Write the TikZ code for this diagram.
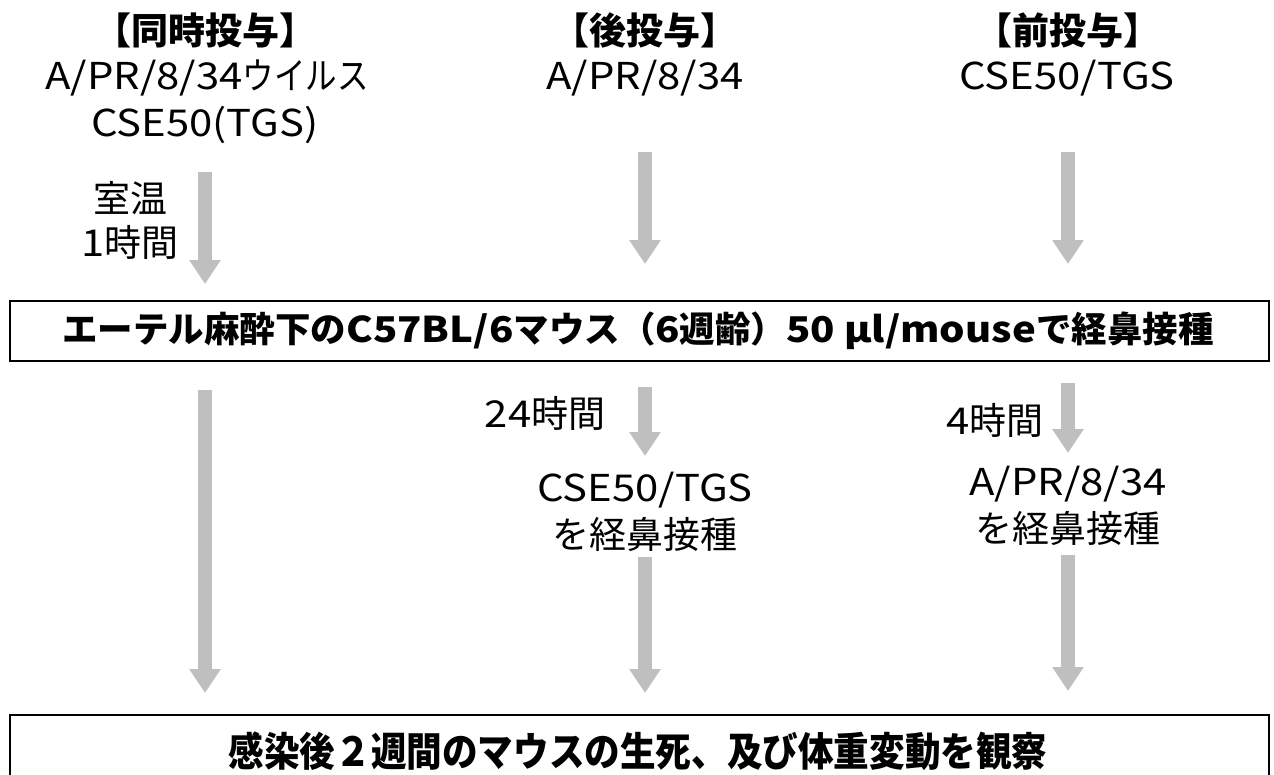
\documentclass[tikz,border=0pt]{standalone}
\usepackage{fontspec}
\setmainfont{Noto Sans CJK JP}
\newfontfamily\widelatin[FakeStretch=1.13]{Noto Sans CJK JP}
\newfontfamily\narrowkana[FakeStretch=0.85]{Noto Sans CJK JP}
\newcommand{\wlat}[1]{{\widelatin #1}}
\newcommand{\nkana}[1]{{\narrowkana #1}}
\usetikzlibrary{arrows.meta}
\definecolor{arrowgray}{HTML}{BFBFBF}
\tikzset{
  txt/.style={inner sep=0pt, font=\fontsize{37}{40}\selectfont},
  head/.style={inner sep=0pt, font=\fontsize{37}{40}\selectfont\bfseries},
  boxtxt/.style={inner sep=0pt, font=\fontsize{37}{40}\selectfont\bfseries},
  garrow/.style={draw=arrowgray, line width=14pt, -{Triangle[width=30pt,length=24pt]}},
  frame/.style={draw=black, line width=1.8pt}
}
\begin{document}
\begin{tikzpicture}[x=1pt,y=-1pt]
\useasboundingbox (0,0) rectangle (1274,774);
% headings
\node[head] (h1) at (205,30) {【同時投与】};
\node[txt] (a1) at (207,78) {\wlat{A/PR/8/34}\nkana{ウイルス}};
\node[txt] (a2) at (205,125) {\wlat{CSE50(TGS)}};
\node[head] (h2) at (645,30) {【後投与】};
\node[txt] (b1) at (645,78) {\wlat{A/PR/8/34}};
\node[head] (h3) at (1068,30) {【前投与】};
\node[txt] (c1) at (1067,78) {\wlat{CSE50/TGS}};
% side labels
\node[txt] (l1) at (130,198) {室温};
\node[txt] (l2) at (130,242) {\wlat{1}時間};
\node[txt] (l3) at (545,413) {\wlat{24}時間};
\node[txt] (l4) at (995,420) {\wlat{4}時間};
% middle texts
\node[txt] (m1) at (645,490) {\wlat{CSE50/TGS}};
\node[txt] (m2) at (645,534) {を経鼻接種};
\node[txt] (n1) at (1068,484) {\wlat{A/PR/8/34}};
\node[txt] (n2) at (1068,528) {を経鼻接種};
% boxes
\draw[frame] (10,301) rectangle (1269,361);
\node[boxtxt] (box1) at (638,331) {\resizebox{1151pt}{!}{エーテル麻酔下の\wlat{C57BL/6}マウス（\wlat{6}週齢）\wlat{50 μl/mouse}で経鼻接種}};
\draw[frame] (10,715) rectangle (1269,800);
\node[boxtxt] (box2) at (638,751) {\scalebox{0.89}[1]{\fontsize{40}{44}\selectfont 感染後２週間のマウスの生死、及び体重変動を観察}};
% arrow coordinates
\coordinate (s1) at (205,172); \coordinate (t1) at (205,284);
\coordinate (s2) at (645,152); \coordinate (t2) at (645,264);
\coordinate (s3) at (1068,152); \coordinate (t3) at (1068,264);
\coordinate (s4) at (205,390); \coordinate (t4) at (205,693);
\coordinate (s5) at (645,387); \coordinate (t5) at (645,456);
\coordinate (s6) at (645,557); \coordinate (t6) at (645,693);
\coordinate (s7) at (1068,383); \coordinate (t7) at (1068,453);
\coordinate (s8) at (1068,555); \coordinate (t8) at (1068,691);
\foreach \i in {1,...,8} {\draw[garrow] (s\i) -- (t\i);}
\end{tikzpicture}
\end{document}
